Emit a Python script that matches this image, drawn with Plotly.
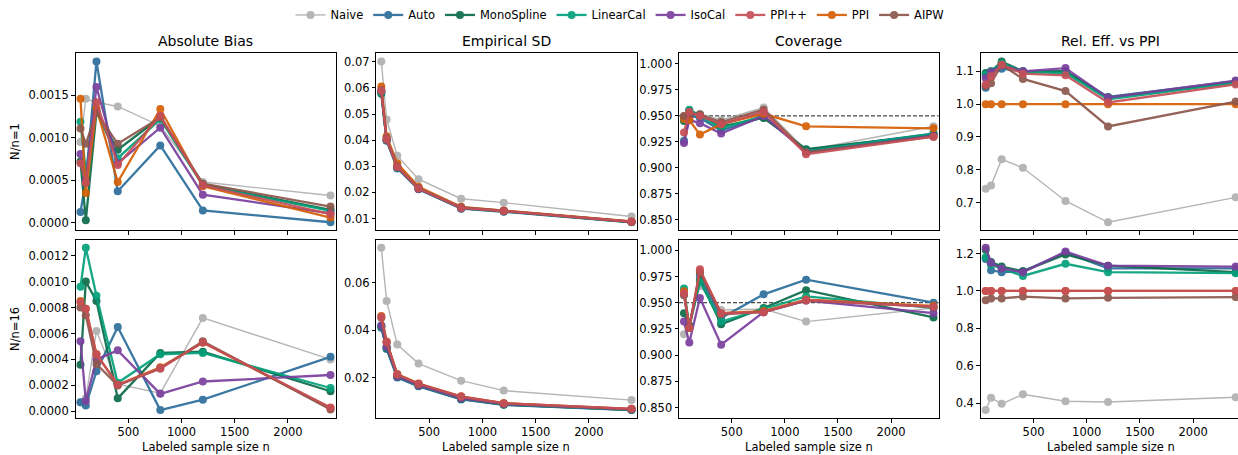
import plotly.graph_objects as go

# Labeled sample sizes
n_vals = [50, 100, 200, 400, 800, 1200, 2400]

methods = ["Naive", "Auto", "MonoSpline", "LinearCal", "IsoCal", "PPI++", "PPI", "AIPW"]
colors = {
    "Naive": "#999999",
    "Auto": "#2c6e9b",
    "MonoSpline": "#0b6b48",
    "LinearCal": "#03a07a",
    "IsoCal": "#7b3f9e",
    "PPI++": "#c64f57",
    "PPI": "#d65f05",
    "AIPW": "#8c564b",
}

# ---- N/n = 1 ----
bias_r1 = {
    "Naive":      [0.00095, 0.00146, 0.00142, 0.00137, 0.00114, 0.00048, 0.00032],
    "Auto":       [0.000125, 0.00050, 0.00190, 0.00037, 0.00091, 0.000145, 0.000005],
    "MonoSpline": [0.00072, 0.00003, 0.00130, 0.00086, 0.00124, 0.00045, 0.00015],
    "LinearCal":  [0.00119, 0.00060, 0.00132, 0.00076, 0.00122, 0.00044, 0.00014],
    "IsoCal":     [0.00081, 0.00050, 0.00160, 0.00070, 0.00112, 0.00033, 0.00011],
    "PPI++":      [0.00070, 0.00047, 0.00142, 0.00068, 0.00126, 0.00044, 0.00010],
    "PPI":        [0.00146, 0.00035, 0.00135, 0.00048, 0.00134, 0.00043, 0.00006],
    "AIPW":       [0.00111, 0.00093, 0.00130, 0.00093, 0.00124, 0.00046, 0.00019],
}
sd_r1 = {
    "Naive":      [0.0701, 0.0479, 0.0340, 0.0251, 0.0176, 0.0161, 0.0108],
    "Auto":       [0.0585, 0.0398, 0.0292, 0.0212, 0.0138, 0.0126, 0.0086],
    "MonoSpline": [0.0578, 0.0400, 0.0295, 0.0214, 0.0140, 0.0128, 0.0087],
    "LinearCal":  [0.0582, 0.0401, 0.0296, 0.0215, 0.0140, 0.0128, 0.0087],
    "IsoCal":     [0.0588, 0.0402, 0.0297, 0.0214, 0.0141, 0.0129, 0.0088],
    "PPI++":      [0.0590, 0.0403, 0.0297, 0.0215, 0.0141, 0.0129, 0.0088],
    "PPI":        [0.0605, 0.0415, 0.0312, 0.0222, 0.0145, 0.0131, 0.0089],
    "AIPW":       [0.0592, 0.0408, 0.0300, 0.0217, 0.0143, 0.0130, 0.0088],
}
cov_r1 = {
    "Naive":      [0.950, 0.948, 0.952, 0.946, 0.958, 0.917, 0.940],
    "Auto":       [0.926, 0.950, 0.948, 0.936, 0.949, 0.917, 0.933],
    "MonoSpline": [0.945, 0.955, 0.951, 0.940, 0.948, 0.918, 0.932],
    "LinearCal":  [0.947, 0.956, 0.950, 0.938, 0.950, 0.916, 0.933],
    "IsoCal":     [0.924, 0.946, 0.943, 0.933, 0.950, 0.915, 0.931],
    "PPI++":      [0.934, 0.954, 0.950, 0.942, 0.954, 0.913, 0.930],
    "PPI":        [0.947, 0.946, 0.932, 0.942, 0.952, 0.940, 0.938],
    "AIPW":       [0.950, 0.952, 0.951, 0.944, 0.956, 0.915, 0.930],
}
eff_r1 = {
    "Naive":      [0.742, 0.752, 0.832, 0.806, 0.705, 0.640, 0.716],
    "Auto":       [1.050, 1.095, 1.108, 1.100, 1.100, 1.022, 1.070],
    "MonoSpline": [1.095, 1.100, 1.130, 1.100, 1.100, 1.020, 1.068],
    "LinearCal":  [1.090, 1.100, 1.125, 1.098, 1.095, 1.015, 1.065],
    "IsoCal":     [1.080, 1.098, 1.118, 1.100, 1.110, 1.020, 1.072],
    "PPI++":      [1.060, 1.085, 1.120, 1.093, 1.088, 1.005, 1.060],
    "PPI":        [1.000, 1.000, 1.000, 1.000, 1.000, 1.000, 1.000],
    "AIPW":       [1.055, 1.064, 1.120, 1.077, 1.040, 0.932, 1.008],
}

# ---- N/n = 16 ----
bias_r16 = {
    "Naive":      [0.00007, 0.00010, 0.00062, 0.00021, 0.00014, 0.00072, 0.00040],
    "Auto":       [0.00007, 0.000045, 0.00031, 0.00065, 0.00001, 0.00009, 0.00042],
    "MonoSpline": [0.00036, 0.00100, 0.00085, 0.00010, 0.00045, 0.00046, 0.000155],
    "LinearCal":  [0.00096, 0.00126, 0.00089, 0.00022, 0.00044, 0.00045, 0.00018],
    "IsoCal":     [0.00054, 0.00008, 0.00040, 0.00047, 0.000135, 0.00023, 0.00028],
    "PPI++":      [0.00084, 0.00079, 0.00044, 0.000205, 0.00033, 0.00053, 0.00003],
    "PPI":        [0.00085, 0.00079, 0.00044, 0.000205, 0.00034, 0.00053, 0.000025],
    "AIPW":       [0.00080, 0.00074, 0.000365, 0.00020, 0.00033, 0.00054, 0.000015],
}
sd_r16 = {
    "Naive":      [0.0747, 0.0523, 0.0339, 0.0259, 0.0187, 0.0145, 0.0105],
    "Auto":       [0.0410, 0.0320, 0.0200, 0.0163, 0.0108, 0.0085, 0.0063],
    "MonoSpline": [0.0415, 0.0325, 0.0203, 0.0165, 0.0110, 0.0086, 0.0064],
    "LinearCal":  [0.0418, 0.0327, 0.0204, 0.0166, 0.0111, 0.0087, 0.0064],
    "IsoCal":     [0.0420, 0.0330, 0.0205, 0.0167, 0.0112, 0.0088, 0.0065],
    "PPI++":      [0.0455, 0.0350, 0.0213, 0.0174, 0.0120, 0.0092, 0.0068],
    "PPI":        [0.0460, 0.0352, 0.0215, 0.0175, 0.0121, 0.0092, 0.0068],
    "AIPW":       [0.0452, 0.0348, 0.0212, 0.0173, 0.0119, 0.0091, 0.0067],
}
cov_r16 = {
    "Naive":      [0.920, 0.928, 0.966, 0.943, 0.944, 0.932, 0.945],
    "Auto":       [0.958, 0.928, 0.976, 0.9355, 0.958, 0.972, 0.950],
    "MonoSpline": [0.940, 0.928, 0.972, 0.9295, 0.945, 0.962, 0.936],
    "LinearCal":  [0.9635, 0.927, 0.970, 0.932, 0.944, 0.956, 0.945],
    "IsoCal":     [0.932, 0.912, 0.9545, 0.910, 0.941, 0.952, 0.940],
    "PPI++":      [0.959, 0.926, 0.982, 0.940, 0.941, 0.9526, 0.946],
    "PPI":        [0.961, 0.926, 0.980, 0.940, 0.942, 0.953, 0.947],
    "AIPW":       [0.957, 0.926, 0.979, 0.939, 0.941, 0.952, 0.946],
}
eff_r16 = {
    "Naive":      [0.364, 0.430, 0.397, 0.448, 0.411, 0.407, 0.432],
    "Auto":       [1.170, 1.110, 1.100, 1.105, 1.205, 1.120, 1.120],
    "MonoSpline": [1.220, 1.155, 1.130, 1.105, 1.195, 1.135, 1.100],
    "LinearCal":  [1.180, 1.140, 1.120, 1.080, 1.145, 1.100, 1.095],
    "IsoCal":     [1.230, 1.150, 1.120, 1.100, 1.210, 1.135, 1.130],
    "PPI++":      [1.000, 1.000, 1.000, 1.000, 1.000, 1.000, 1.000],
    "PPI":        [1.000, 1.000, 1.000, 1.000, 1.000, 1.000, 1.000],
    "AIPW":       [0.950, 0.960, 0.960, 0.970, 0.960, 0.963, 0.967],
}

col_titles = ["Absolute Bias", "Empirical SD", "Coverage", "Rel. Eff. vs PPI"]
row_labels = ["N/n=1", "N/n=16"]
x_title = "Labeled sample size n"
nominal_cov = 0.95

panels = [
    [bias_r1, sd_r1, cov_r1, eff_r1],
    [bias_r16, sd_r16, cov_r16, eff_r16],
]
# y tick spacing / format per panel
ytick_cfg = [
    [(0.0005, ".4f"), (0.01, ".2f"), (0.025, ".3f"), (0.1, ".1f")],
    [(0.0002, ".4f"), (0.02, ".2f"), (0.025, ".3f"), (0.2, ".1f")],
]

W, H = 1238, 455
FONT = "DejaVu Sans"

# panel geometry in pixels
col_px = [(75.5, 335.5), (376.3, 636.5), (679.0, 938.5), (980.7, 1240.7)]
row_px = [(51.7, 229.3), (238.8, 418.0)]
x_lo, x_hi = 3.0, 2447.0
units_per_px = (x_hi - x_lo) / 260.0

# draw order (PPI++ on top); legend keeps the listed order
draw_order = ["Naive", "Auto", "MonoSpline", "LinearCal", "IsoCal", "PPI", "AIPW", "PPI++"]

fig = go.Figure()
layout_axes = {}
ann = []
shapes = []

for r in range(2):
    for c in range(4):
        k = r * 4 + c + 1
        xa = "x" if k == 1 else f"x{k}"
        ya = "y" if k == 1 else f"y{k}"
        data = panels[r][c]
        for m in draw_order:
            is_naive = m == "Naive"
            fig.add_trace(go.Scatter(
                x=n_vals, y=data[m], mode="lines+markers", name=m,
                xaxis=xa, yaxis=ya,
                legendgroup=m, showlegend=(k == 1),
                legendrank=methods.index(m) + 1,
                line=dict(color=colors[m], width=1.4 if is_naive else 2.3),
                marker=dict(color=colors[m], size=8),
                opacity=0.72 if is_naive else 0.92,
            ))

        x0p, x1p = col_px[c]
        y0p, y1p = row_px[r]
        xr_hi = x_hi
        if x1p > W:
            xr_hi = x_lo + (W - x0p) * units_per_px
            x1p = W
        xdom = [x0p / W, x1p / W]
        ydom = [1 - y1p / H, 1 - y0p / H]

        if c == 2:
            yr = [0.84, 1.01]
        else:
            allv = [v for m in methods for v in data[m]]
            lo, hi = min(allv), max(allv)
            pad = 0.05 * (hi - lo)
            yr = [lo - pad, hi + pad]

        dt, fmt = ytick_cfg[r][c]
        axis_common = dict(
            showline=True, linecolor="#000000", linewidth=0.9, mirror=True,
            ticks="outside", ticklen=3.5, tickwidth=0.8, tickcolor="#000000",
            showgrid=False, zeroline=False,
            tickfont=dict(family=FONT, size=11.5, color="#000000"),
        )
        layout_axes["xaxis" if k == 1 else f"xaxis{k}"] = dict(
            axis_common, domain=xdom, range=[x_lo, xr_hi], anchor=ya,
            tickmode="array", tickvals=[500, 1000, 1500, 2000],
            ticktext=["500", "1000", "1500", "2000"],
            showticklabels=(r == 1),
        )
        layout_axes["yaxis" if k == 1 else f"yaxis{k}"] = dict(
            axis_common, domain=ydom, range=yr, anchor=xa,
            tick0=0, dtick=dt, tickformat=fmt,
        )

        if c == 2:
            shapes.append(dict(
                type="line", xref=f"{xa} domain", yref=ya,
                x0=0, x1=1, y0=nominal_cov, y1=nominal_cov,
                line=dict(color="#000000", width=0.9, dash="4px,2px"), layer="below",
            ))

        xc = (col_px[c][0] + col_px[c][1]) / 2 / W
        if r == 0:
            ann.append(dict(
                text=col_titles[c], x=xc, y=1 - 39.5 / H, xref="paper", yref="paper",
                showarrow=False, xanchor="center", yanchor="middle",
                font=dict(family=FONT, size=14, color="#000000"),
            ))
        else:
            ann.append(dict(
                text=x_title, x=xc, y=1 - 447 / H, xref="paper", yref="paper",
                showarrow=False, xanchor="center", yanchor="middle",
                font=dict(family=FONT, size=11.5, color="#000000"),
            ))
    ann.append(dict(
        text=row_labels[r], x=15 / W, y=1 - (row_px[r][0] + row_px[r][1]) / 2 / H,
        xref="paper", yref="paper", showarrow=False, textangle=-90,
        xanchor="center", yanchor="middle",
        font=dict(family=FONT, size=11.5, color="#000000"),
    ))

fig.update_layout(
    width=W, height=H, autosize=False,
    margin=dict(l=0, r=0, t=0, b=0),
    paper_bgcolor="white", plot_bgcolor="white",
    font=dict(family=FONT, color="#000000"),
    showlegend=True,
    legend=dict(
        orientation="h", x=620 / W, xanchor="center", y=1 - 13 / H, yanchor="middle",
        font=dict(family=FONT, size=11.5, color="#000000"),
        itemwidth=30, tracegroupgap=0, bgcolor="rgba(0,0,0,0)",
    ),
    annotations=ann,
    shapes=shapes,
    **layout_axes,
)

fig.write_html("out.html")
